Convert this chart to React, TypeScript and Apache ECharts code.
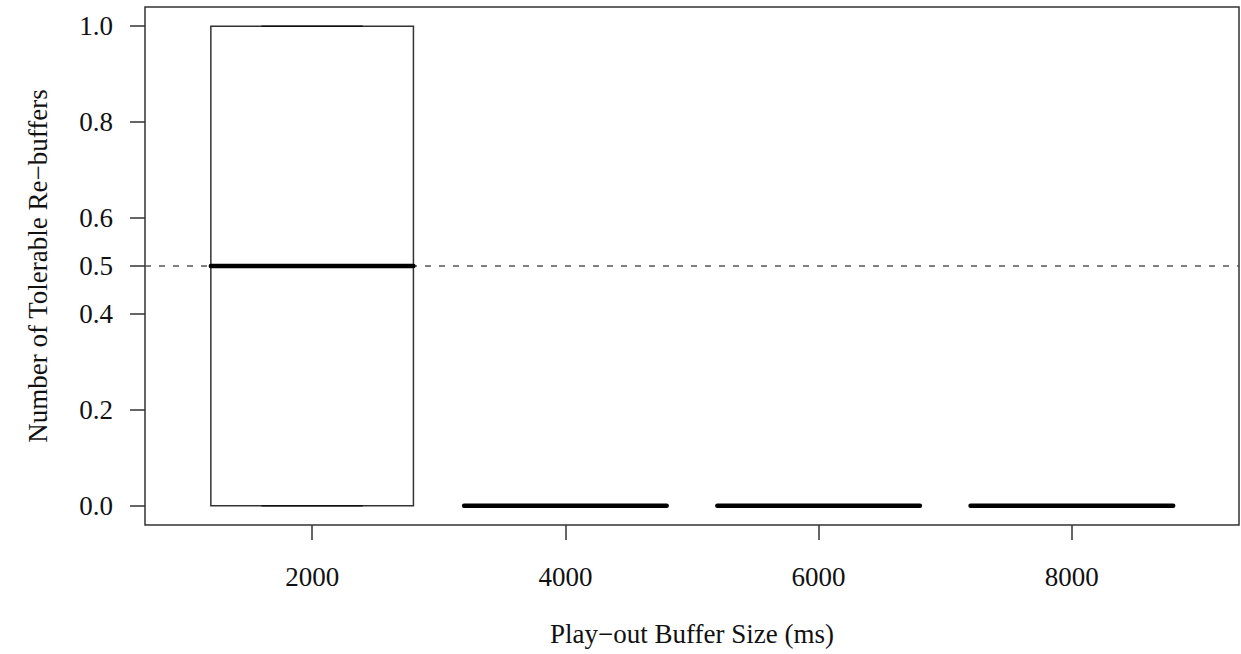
import React, { useEffect, useRef } from "react";
import * as echarts from "echarts";

// Play-out buffer sizes (ms) and the five-number summary of each group
const bufferSizes = ["2000", "4000", "6000", "8000"];
const lowerWhisker = [0, 0, 0, 0];
const lowerQuartile = [0, 0, 0, 0];
const medians = [0.5, 0, 0, 0];
const upperQuartile = [1, 0, 0, 0];
const upperWhisker = [1, 0, 0, 0];

// y-axis tick positions and the dashed reference level
const yTicks = [0, 0.2, 0.4, 0.5, 0.6, 0.8, 1.0];
const referenceLevel = 0.5;

const FONT = "'Liberation Serif', 'DejaVu Serif', serif";
const FONT_SIZE = 27;
const BOX_WIDTH = 0.8;

export default function App() {
  const ref = useRef<HTMLDivElement>(null);

  useEffect(() => {
    if (!ref.current) return;
    const chart = echarts.init(ref.current, null, { renderer: "svg" });

    const data = bufferSizes.map((_, i) => [
      i + 1,
      lowerWhisker[i],
      lowerQuartile[i],
      medians[i],
      upperQuartile[i],
      upperWhisker[i],
    ]);

    const option: any = {
      animation: false,
      backgroundColor: "#fff",
      grid: {
        left: 145,
        right: 2,
        top: 7,
        bottom: 129,
        show: true,
        borderColor: "#333",
        borderWidth: 1.5,
        backgroundColor: "transparent",
      },
      xAxis: {
        type: "value",
        min: 0.34,
        max: 4.66,
        splitLine: { show: false },
        axisLine: { show: false, onZero: false },
        axisTick: {
          show: true,
          length: 15,
          customValues: bufferSizes.map((_, i) => i + 1),
          lineStyle: { color: "#333", width: 1.5 },
        },
        axisLabel: {
          customValues: bufferSizes.map((_, i) => i + 1),
          formatter: (v: number) => bufferSizes[Math.round(v) - 1] ?? "",
          fontFamily: FONT,
          fontSize: FONT_SIZE,
          color: "#111",
          margin: 38,
        },
      },
      yAxis: {
        type: "value",
        min: -0.04,
        max: 1.04,
        splitLine: { show: false },
        axisLine: { show: false, onZero: false },
        axisTick: {
          show: true,
          length: 15,
          customValues: yTicks,
          lineStyle: { color: "#333", width: 1.5 },
        },
        axisLabel: {
          customValues: yTicks,
          formatter: (v: number) => v.toFixed(1),
          fontFamily: FONT,
          fontSize: FONT_SIZE,
          color: "#111",
          margin: 32,
        },
      },
      graphic: [
        {
          type: "text",
          x: 692,
          y: 634,
          style: {
            text: "Play\u2212out Buffer Size (ms)",
            fontFamily: FONT,
            fontSize: FONT_SIZE,
            fill: "#111",
            align: "center",
            verticalAlign: "middle",
          },
        },
        {
          type: "text",
          x: 38,
          y: 266,
          rotation: Math.PI / 2,
          style: {
            text: "Number of Tolerable Re\u2212buffers",
            fontFamily: FONT,
            fontSize: FONT_SIZE,
            fill: "#111",
            align: "center",
            verticalAlign: "middle",
          },
        },
      ],
      series: [
        {
          // dashed horizontal reference level, drawn beneath the boxes
          type: "line",
          data: [],
          z: 1,
          markLine: {
            silent: true,
            z: 1,
            symbol: ["none", "none"],
            label: { show: false },
            lineStyle: { color: "#555", width: 1.5, type: [6, 8] },
            data: [{ yAxis: referenceLevel }],
          },
        },
        {
          type: "custom",
          data,
          encode: { x: 0, y: [1, 2, 3, 4, 5] },
          clip: false,
          z: 6,
          renderItem: (_params: any, api: any) => {
            const x = api.value(0);
            const pLo = api.coord([x, api.value(1)]);
            const pQ1 = api.coord([x, api.value(2)]);
            const pMed = api.coord([x, api.value(3)]);
            const pQ3 = api.coord([x, api.value(4)]);
            const pHi = api.coord([x, api.value(5)]);
            const half = api.size([BOX_WIDTH, 0])[0] / 2;
            const cap = half / 2;
            const cx = pMed[0];
            const thin = { stroke: "#333", lineWidth: 1.5, fill: "#fff" };
            return {
              type: "group",
              children: [
                {
                  type: "rect",
                  shape: {
                    x: cx - half,
                    y: pQ3[1],
                    width: half * 2,
                    height: pQ1[1] - pQ3[1],
                  },
                  style: thin,
                },
                {
                  type: "line",
                  shape: { x1: cx, y1: pQ3[1], x2: cx, y2: pHi[1] },
                  style: { ...thin, lineDash: [6, 6] },
                },
                {
                  type: "line",
                  shape: { x1: cx, y1: pQ1[1], x2: cx, y2: pLo[1] },
                  style: { ...thin, lineDash: [6, 6] },
                },
                {
                  type: "line",
                  shape: { x1: cx - cap, y1: pHi[1], x2: cx + cap, y2: pHi[1] },
                  style: { ...thin, stroke: "#111" },
                },
                {
                  type: "line",
                  shape: { x1: cx - cap, y1: pLo[1], x2: cx + cap, y2: pLo[1] },
                  style: { ...thin, stroke: "#111" },
                },
                {
                  type: "line",
                  shape: { x1: cx - half, y1: pMed[1], x2: cx + half, y2: pMed[1] },
                  style: { stroke: "#000", lineWidth: 4.5, lineCap: "round" },
                },
              ],
            };
          },
        },
      ],
    };

    chart.setOption(option);
    return () => chart.dispose();
  }, []);

  return (
    <div
      ref={ref}
      style={{ position: "absolute", left: 0, top: 0, width: 1241, height: 654 }}
    />
  );
}
